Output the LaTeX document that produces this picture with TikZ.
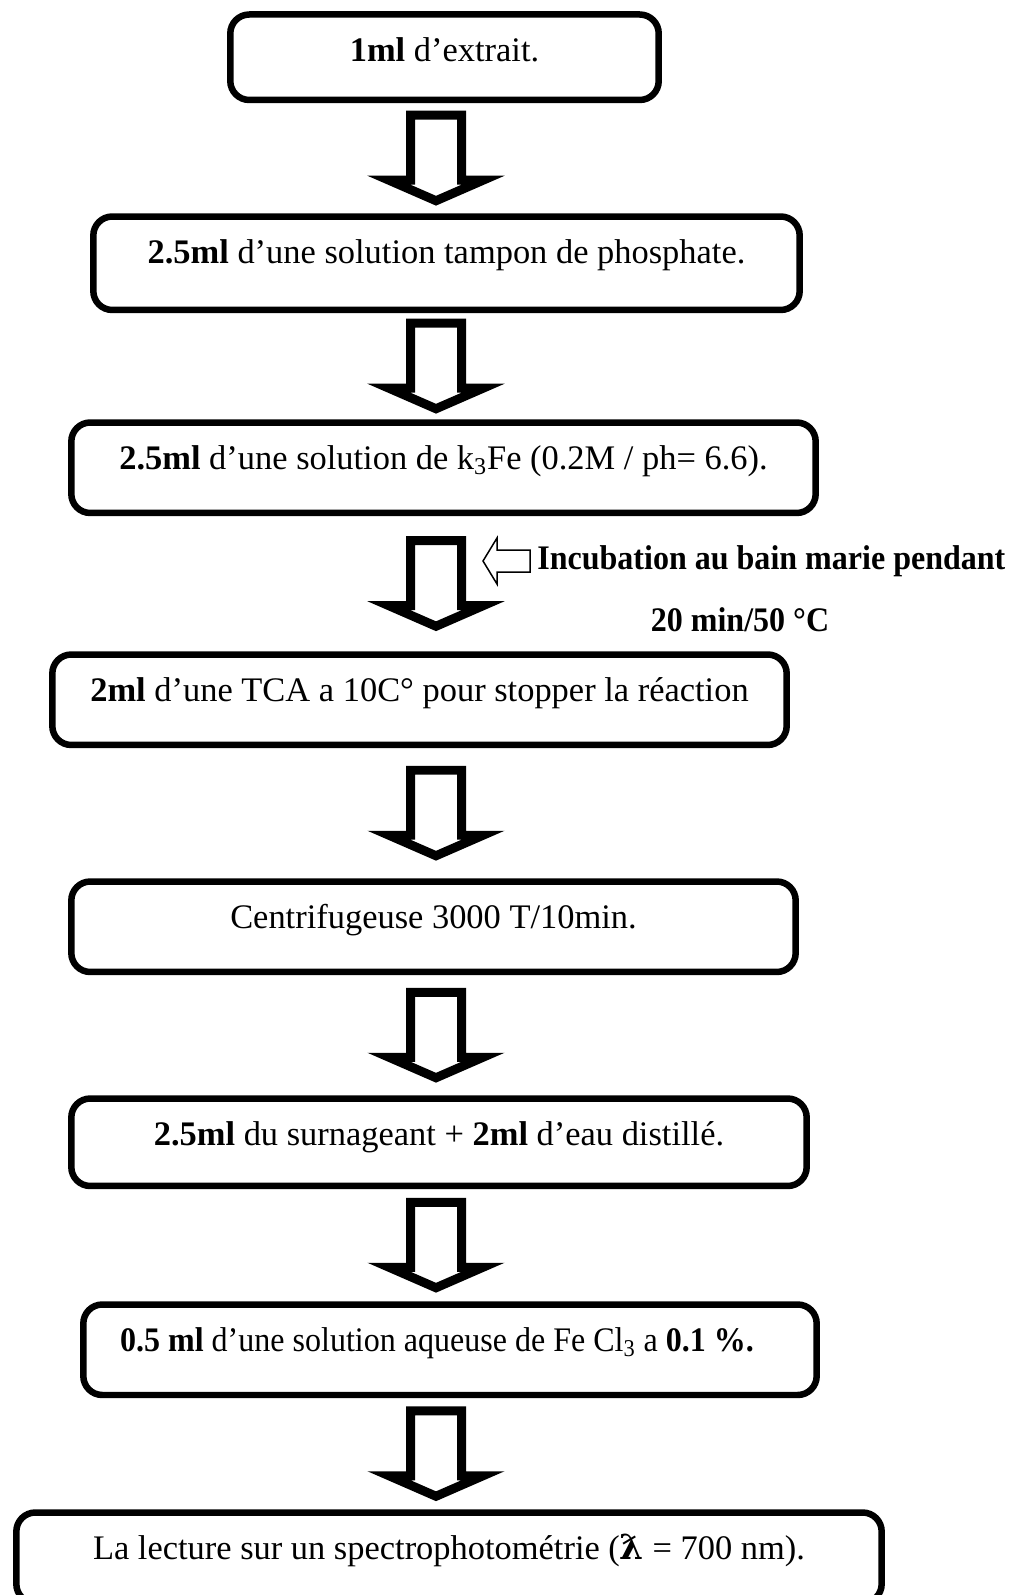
\documentclass[tikz,border=0pt]{standalone}
\usepackage{fontspec}
\setmainfont{Liberation Serif}
\newfontfamily\lamfont{DejaVu Serif}
\newfontfamily\serrefont[FakeStretch=0.93]{Liberation Serif}
\usepackage{tikz}
\usetikzlibrary{positioning, calc}
\tikzset{
x=0.02cm, y=-0.02cm, % one unit = one pixel of the scan
etape/.style={draw, line width=0.13cm, rounded corners=0.38cm, inner xsep=0pt, inner ysep=0pt,
  anchor=north, align=center, text height=0.94cm, text depth=0.87cm,
  font=\fontsize{19.6}{23}\selectfont}, % boxes of the protocol
bigarrow/.style={draw, line width=0.18cm, line join=miter, fill=white}, % hollow block arrow
sidearrow/.style={draw, line width=0.03cm, line join=miter},
note/.style={inner sep=0pt, font=\serrefont\fontsize{19.6}{23}\selectfont\bfseries},
}
% hollow arrow between two boxes, centred on the column
\newcommand{\fleche}[2]{%
  \path ($(col |- #1.south)!0.5!(col |- #2.north)$) coordinate (m);
  \draw[bigarrow] ([shift={(-25.5,-43)}]m) -- ([shift={(-25.5,22)}]m) -- ([shift={(-47,22)}]m)
    -- ([shift={(0,42.5)}]m) -- ([shift={(47,22)}]m) -- ([shift={(25.5,22)}]m)
    -- ([shift={(25.5,-43)}]m) -- cycle;}
\begin{document}
\begin{tikzpicture}
\useasboundingbox (0,0) rectangle (1013,1595);
\coordinate (col) at (436,0);
\node[etape, minimum width=8.57cm, text depth=0.77cm] (e1) at (444.5,11.25) {\textbf{1ml} d’extrait.};
\node[etape, minimum width=14.13cm, text depth=0.93cm] (e2) at (446.5,213.25) {\textbf{2.5ml} d’une solution tampon de phosphate.};
\node[etape, minimum width=14.89cm] (e3) at (443.5,419.25) {\textbf{2.5ml} d’une solution de k\textsubscript{3}Fe (0.2M / ph= 6.6).};
\node[etape, minimum width=14.69cm] (e4) at (419.5,651.25) {\textbf{2ml} d’une TCA a 10C° pour stopper la réaction};
\node[etape, minimum width=14.49cm] (e5) at (433.5,878.25) {Centrifugeuse 3000 T/10min.};
\node[etape, minimum width=14.71cm, text depth=0.81cm] (e6) at (439,1095.25) {\textbf{2.5ml} du surnageant + \textbf{2ml} d’eau distillé.};
\node[etape, minimum width=14.67cm, font=\serrefont\fontsize{19.6}{23}\selectfont] (e7) at (450,1301.25) {\textbf{0.5 ml} d’une solution aqueuse de Fe Cl\textsubscript{3} a \textbf{0.1 \%.}\hspace*{0.52cm}};
\node[etape, minimum width=17.31cm] (e8) at (449,1509.25) {La lecture sur un spectrophotométrie ({\lamfont\bfseries ƛ} = 700 nm).};

\fleche{e1}{e2}
\fleche{e2}{e3}
\fleche{e3}{e4}
\fleche{e4}{e5}
\fleche{e5}{e6}
\fleche{e6}{e7}
\fleche{e7}{e8}

% incubation step beside the third arrow
\node[note, anchor=west] (incub) at (537,561) {Incubation au bain marie pendant};
\node[note, anchor=base] (temps) at (740,631) {20 min/50 °C};
\draw[sidearrow] ([xshift=-0.14cm]incub.west) -- ++(0,-11) -- ++(-33,0) -- ++(0,-12) -- ++(-14,23)
  -- ++(14,23) -- ++(0,-12) -- ++(33,0) -- cycle;
\end{tikzpicture}
\end{document}
